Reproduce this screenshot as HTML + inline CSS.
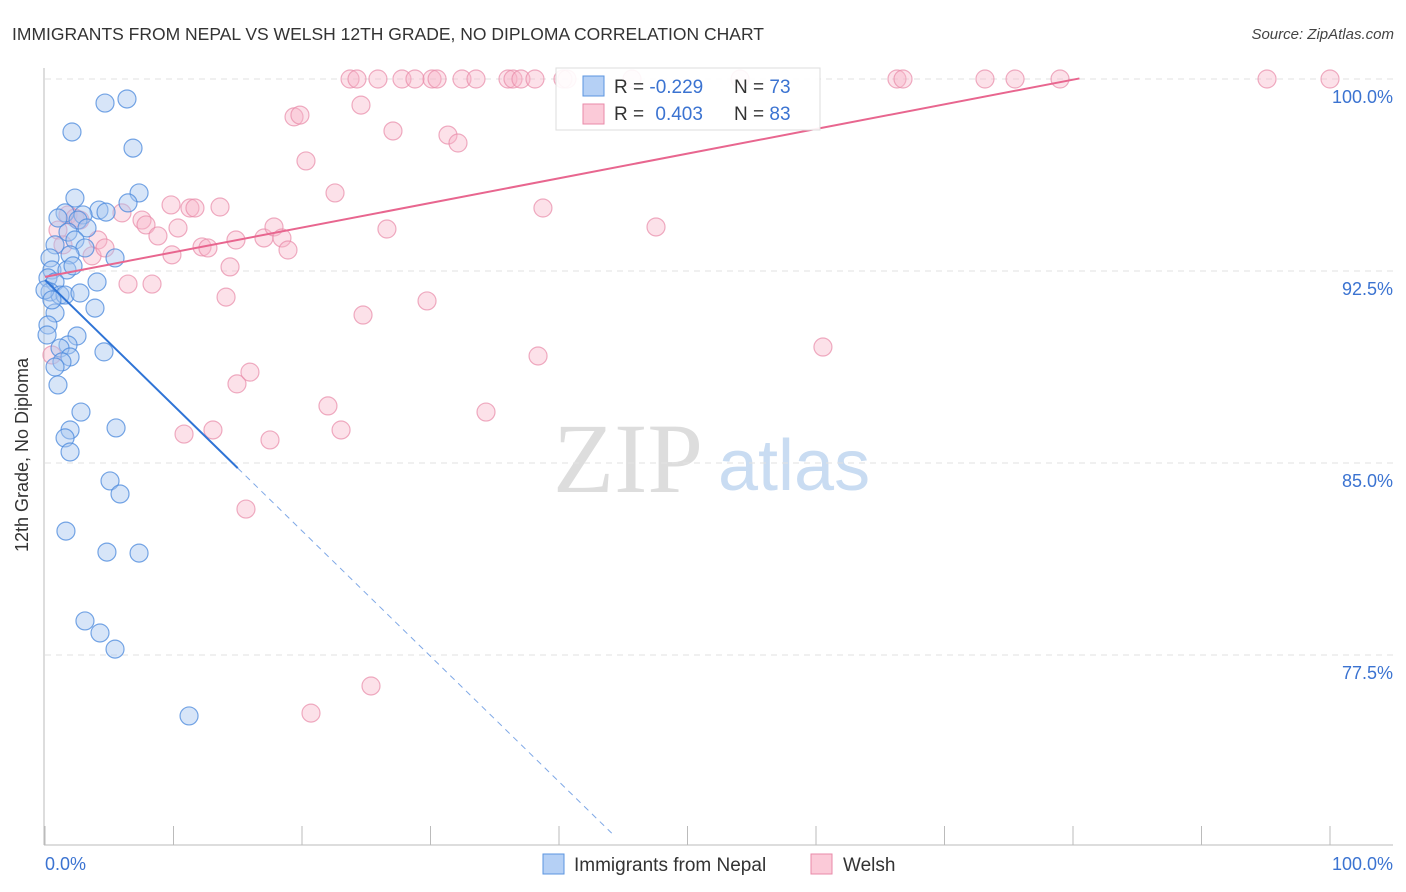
<!DOCTYPE html>
<html><head><meta charset="utf-8"><style>
body{margin:0;background:#fff;font-family:"Liberation Sans",sans-serif}
svg{display:block}
</style></head><body>
<svg id="chart" width="1406" height="892">
<text x="12" y="40" font-size="17.5" fill="#333">IMMIGRANTS FROM NEPAL VS WELSH 12TH GRADE, NO DIPLOMA CORRELATION CHART</text>
<text x="1394" y="39" font-size="15" fill="#444" font-style="italic" text-anchor="end">Source: ZipAtlas.com</text>
<g>
<text x="553" y="492" font-size="100" font-family="Liberation Serif,serif" fill="#ddd">ZIP</text>
<text x="718" y="490" font-size="72" fill="#c9dcf2">atlas</text>
</g>
<g id="grid"></g>
<line x1="44" y1="68" x2="44" y2="845" stroke="#bbb"/>
<line x1="44" y1="845" x2="1393" y2="845" stroke="#bbb"/>
<g id="ticks"></g>
<text x="28" y="455" font-size="18" fill="#333" text-anchor="middle" transform="rotate(-90 28 455)">12th Grade, No Diploma</text>
<text x="45" y="870" font-size="18" fill="#3b73d1">0.0%</text>
<text x="1393" y="870" font-size="18" fill="#3b73d1" text-anchor="end">100.0%</text>
<g id="pts"></g>
<g id="lines"></g>
<g>
<rect x="556" y="68" width="264" height="62" fill="#fff" fill-opacity="0.9" stroke="#ddd"/>
<rect x="583" y="76" width="21" height="20" fill="#b5d0f5" stroke="#5b95e0"/>
<rect x="583" y="104" width="21" height="20" fill="#fbcad8" stroke="#e88aa8"/>
<text x="614" y="93" font-size="19" fill="#333">R = <tspan fill="#3b73d1">-0.229</tspan></text>
<text x="734" y="93" font-size="19" fill="#333">N = <tspan fill="#3b73d1">73</tspan></text>
<text x="614" y="120" font-size="19" fill="#333">R = <tspan fill="#3b73d1" dx="6">0.403</tspan></text>
<text x="734" y="120" font-size="19" fill="#333">N = <tspan fill="#3b73d1">83</tspan></text>
</g>
<g>
<rect x="543" y="854" width="21" height="20" fill="#b5d0f5" stroke="#5b95e0"/>
<text x="574" y="871" font-size="19" fill="#333">Immigrants from Nepal</text>
<rect x="811" y="854" width="21" height="20" fill="#fbcad8" stroke="#e88aa8"/>
<text x="843" y="871" font-size="19" fill="#333">Welsh</text>
</g>
</svg>
<script>
const yTicks=[100,92.5,85,77.5];
const yTickLabels=["100.0%","92.5%","85.0%","77.5%"];
const xTicks=[0,10,20,30,40,50,60,70,80,90,100];
const nepalX=[4.67,6.38,2.10,6.85,7.32,2.33,6.46,4.20,4.75,1.56,1.01,2.96,2.57,3.27,1.79,0.78,2.33,3.11,0.39,1.95,5.45,0.54,1.71,2.18,0.23,4.05,0.78,0.39,1.17,1.56,2.72,3.89,0.78,0.23,0.16,2.49,1.79,1.17,1.95,4.59,1.32,0.78,1.01,2.80,1.95,1.56,1.95,5.53,5.06,5.84,1.63,4.82,7.32,3.11,4.28,5.45,11.21,0,0.54];
const nepalY=[99.06,99.22,97.93,97.30,95.55,95.35,95.16,94.88,94.80,94.77,94.57,94.69,94.49,94.18,94.02,93.52,93.71,93.40,93.01,93.13,93.01,92.54,92.54,92.70,92.23,92.07,92.07,91.68,91.56,91.56,91.64,91.05,90.86,90.39,90.00,89.96,89.61,89.49,89.14,89.34,88.95,88.75,88.05,86.99,86.29,85.98,85.43,86.37,84.30,83.79,82.34,81.52,81.48,78.83,78.36,77.73,75.12,91.76,91.37];
const welshX=[23.74,24.28,25.91,27.78,28.79,30.12,30.51,32.45,33.54,36.03,36.42,37.04,38.13,40.31,40.62,45.68,54.09,66.30,66.77,73.15,75.49,78.99,95.10,100,24.59,27.08,31.36,32.14,19.38,19.84,20.31,22.57,38.75,47.55,9.81,11.28,11.67,13.62,5.99,7.55,7.86,8.79,10.35,9.88,12.22,12.68,14.40,14.86,17.04,17.82,18.44,18.91,26.61,4.12,3.66,6.46,8.33,14.09,24.75,29.73,38.37,60.54,14.94,15.95,22.02,34.32,10.82,13.07,17.51,23.04,15.64,25.37,20.70,1.79,2.33,2.72,1.01,1.40,4.67,0.54];
const welshY=[100,100,100,100,100,100,100,100,100,100,100,100,100,100,100,100,100,100,100,100,100,100,100,100,98.98,97.97,97.81,97.50,98.52,98.59,96.80,95.55,94.96,94.22,95.08,94.96,94.96,95.00,94.77,94.49,94.30,93.87,94.18,93.13,93.44,93.40,92.66,93.71,93.79,94.22,93.79,93.32,94.14,93.71,93.09,91.99,91.99,91.48,90.78,91.33,89.18,89.53,88.09,88.55,87.23,86.99,86.13,86.29,85.90,86.29,83.20,76.29,75.23,94.69,94.57,94.49,94.10,93.52,93.40,89.22];
const nepalTrend=[92.15,-0.49];
const welshTrend=[92.27,0.0963];
const NS="http://www.w3.org/2000/svg";
const X=v=>45+v*12.85;
const Y=v=>79+(100-v)*25.6;
function mk(tag,attrs,parent){const e=document.createElementNS(NS,tag);for(const k in attrs)e.setAttribute(k,attrs[k]);parent.appendChild(e);return e;}
const grid=document.getElementById('grid');
yTicks.forEach((t,i)=>{
 const l=mk('line',{x1:45,x2:1393,y1:Y(t),y2:Y(t),stroke:'#e2e2e2','stroke-dasharray':'6,5'},grid);
 
 
 const tx=mk('text',{x:1393,y:Y(t)+24,'font-size':18,fill:'#3b73d1','text-anchor':'end'},grid);
 tx.textContent=yTickLabels[i];
 
 
});
const ticks=document.getElementById('ticks');
xTicks.forEach(t=>{
 const l=mk('line',{x1:X(t),x2:X(t),y1:826,y2:845,stroke:'#bbb'},ticks);
 
 
});
const pts=document.getElementById('pts');
welshX.forEach((x,i)=>{
 const c=mk('circle',{cx:X(x),cy:Y(welshY[i]),r:9,fill:'#f7b3c8','fill-opacity':0.4,stroke:'#e88aa8','stroke-opacity':0.7,'stroke-width':1.2},pts);
 
 
});
nepalX.forEach((x,i)=>{
 const c=mk('circle',{cx:X(x),cy:Y(nepalY[i]),r:9,fill:'#a6c6f0','fill-opacity':0.45,stroke:'#4a88dc','stroke-opacity':0.75,'stroke-width':1.2},pts);
 
 
});
const lines=document.getElementById('lines');
const nl=x=>nepalTrend[0]+nepalTrend[1]*x;
const wl=x=>welshTrend[0]+welshTrend[1]*x;
let l1=mk('line',{x1:X(0),y1:Y(nl(0)),x2:X(15),y2:Y(nl(15)),stroke:'#2f74d6','stroke-width':2},lines);


let l2=mk('line',{x1:X(15),y1:Y(nl(15)),x2:X(44.1),y2:Y(nl(44.1)),stroke:'#7fa8e6','stroke-width':1,'stroke-dasharray':'6,5'},lines);


let l3=mk('line',{x1:X(0),y1:Y(wl(0)),x2:X(80.5),y2:Y(wl(80.5)),stroke:'#e8668f','stroke-width':2},lines);


</script>
</body></html>
